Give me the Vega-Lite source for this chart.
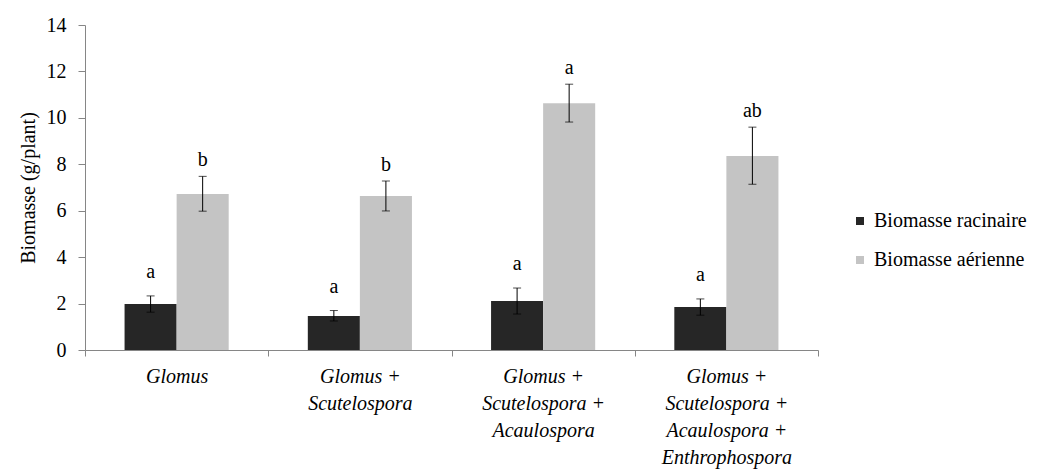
{
  "$schema": "https://vega.github.io/schema/vega-lite/v6.json",
  "autosize": "none",
  "width": 733,
  "height": 325,
  "padding": {"left": 85, "top": 25, "right": 233, "bottom": 119},
  "background": "white",
  "config": {
    "font": "'Liberation Serif', 'DejaVu Serif', serif",
    "view": {"stroke": null},
    "text": {"font": "'Liberation Serif', 'DejaVu Serif', serif"},
    "legend": {"labelFont": "'Liberation Serif', 'DejaVu Serif', serif"},
    "axis": {"labelColor": "#000", "titleColor": "#000", "domainColor": "#868686", "tickColor": "#868686", "grid": false, "labelFont": "'Liberation Serif', 'DejaVu Serif', serif", "titleFont": "'Liberation Serif', 'DejaVu Serif', serif"}
  },
  "data": {
    "values": [
      {"group": "Glomus", "type": "Biomasse racinaire", "mean": 1.98, "lo": 1.63, "hi": 2.33, "letter": "a"},
      {"group": "Glomus", "type": "Biomasse aérienne", "mean": 6.72, "lo": 5.98, "hi": 7.48, "letter": "b"},
      {"group": "Glomus +|Scutelospora", "type": "Biomasse racinaire", "mean": 1.47, "lo": 1.25, "hi": 1.7, "letter": "a"},
      {"group": "Glomus +|Scutelospora", "type": "Biomasse aérienne", "mean": 6.63, "lo": 5.99, "hi": 7.28, "letter": "b"},
      {"group": "Glomus +|Scutelospora +|Acaulospora", "type": "Biomasse racinaire", "mean": 2.11, "lo": 1.55, "hi": 2.67, "letter": "a"},
      {"group": "Glomus +|Scutelospora +|Acaulospora", "type": "Biomasse aérienne", "mean": 10.63, "lo": 9.82, "hi": 11.45, "letter": "a"},
      {"group": "Glomus +|Scutelospora +|Acaulospora +|Enthrophospora", "type": "Biomasse racinaire", "mean": 1.85, "lo": 1.5, "hi": 2.2, "letter": "a"},
      {"group": "Glomus +|Scutelospora +|Acaulospora +|Enthrophospora", "type": "Biomasse aérienne", "mean": 8.36, "lo": 7.14, "hi": 9.6, "letter": "ab"}
    ]
  },
  "encoding": {
    "x": {
      "field": "group", "type": "nominal", "sort": null,
      "scale": {"paddingInner": 0, "paddingOuter": 0},
      "axis": {
        "title": null, "labelAngle": 0, "tickBand": "extent", "tickSize": 6,
        "labelPadding": 10, "labelFontSize": 20, "labelFontStyle": "italic",
        "labelLineHeight": 27, "labelBaseline": "top",
        "labelExpr": "split(datum.label, '|')"
      }
    },
    "xOffset": {
      "field": "type", "type": "nominal", "sort": ["Biomasse racinaire", "Biomasse aérienne"],
      "scale": {"paddingInner": 0, "paddingOuter": 0.76}
    }
  },
  "layer": [
    {
      "mark": {"type": "bar"},
      "encoding": {
        "y": {
          "field": "mean", "type": "quantitative",
          "scale": {"domain": [0, 14]},
          "axis": {"title": "Biomasse (g/plant)", "titleFontSize": 20, "titleFontWeight": "normal", "titlePadding": 8, "labelFontSize": 20, "labelPadding": 12, "tickSize": 7, "values": [0, 2, 4, 6, 8, 10, 12, 14]}
        },
        "color": {
          "field": "type", "type": "nominal",
          "scale": {"domain": ["Biomasse racinaire", "Biomasse aérienne"], "range": ["#262626", "#c4c4c4"]},
          "legend": {
            "title": null, "orient": "none", "legendX": 765, "legendY": 186,
            "symbolType": "square", "symbolSize": 64, "symbolStrokeWidth": 0,
            "labelFontSize": 20, "labelColor": "#000",
            "rowPadding": 19, "labelOffset": 4
          }
        }
      }
    },
    {
      "mark": {"type": "rule", "color": "#000", "strokeWidth": 1},
      "encoding": {"y": {"field": "lo", "type": "quantitative"}, "y2": {"field": "hi"}}
    },
    {
      "mark": {"type": "tick", "color": "#000", "thickness": 1, "size": 8, "orient": "horizontal"},
      "encoding": {"y": {"field": "hi", "type": "quantitative"}}
    },
    {
      "mark": {"type": "tick", "color": "#000", "thickness": 1, "size": 8, "orient": "horizontal"},
      "encoding": {"y": {"field": "lo", "type": "quantitative"}}
    },
    {
      "transform": [{"filter": "datum.type === 'Biomasse racinaire'"}],
      "mark": {"type": "text", "baseline": "alphabetic", "dy": -18, "fontSize": 20, "color": "#000"},
      "encoding": {"y": {"field": "hi", "type": "quantitative"}, "text": {"field": "letter"}}
    },
    {
      "transform": [{"filter": "datum.type === 'Biomasse aérienne'"}],
      "mark": {"type": "text", "baseline": "alphabetic", "dy": -10, "fontSize": 20, "color": "#000"},
      "encoding": {"y": {"field": "hi", "type": "quantitative"}, "text": {"field": "letter"}}
    }
  ]
}
